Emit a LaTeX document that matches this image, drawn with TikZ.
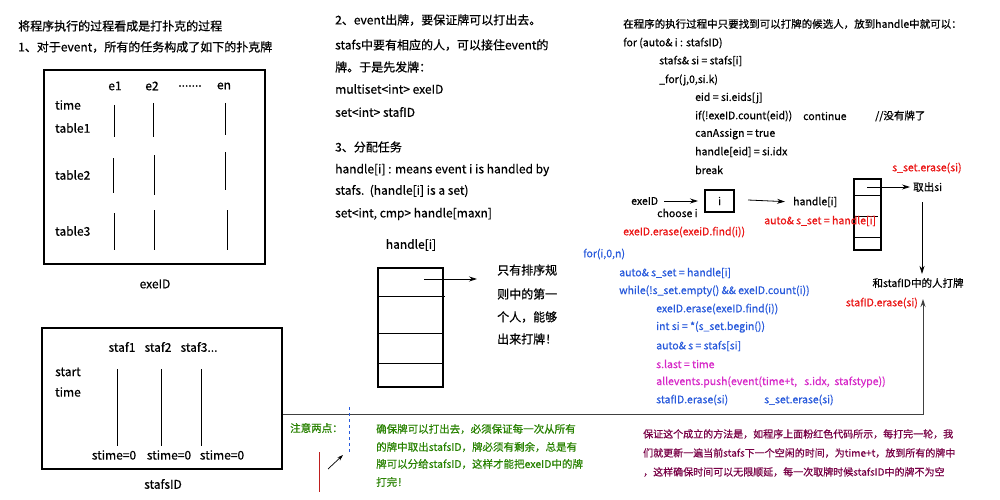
\documentclass[tikz,border=0pt]{standalone}
\usepackage{fontspec}
\setmainfont{Noto Sans CJK SC}[FakeBold=0.6]
\usetikzlibrary{arrows.meta}
\definecolor{cblue}{RGB}{40,90,220}
\definecolor{cred}{RGB}{235,20,20}
\definecolor{cmag}{RGB}{215,40,200}
\definecolor{cgreen}{RGB}{40,130,0}
\definecolor{cpurp}{RGB}{120,0,70}
\definecolor{cdred}{RGB}{190,30,30}
\tikzset{
  big/.style={anchor=west, inner sep=0pt, font=\fontsize{12}{14}\selectfont},
  bigc/.style={inner sep=0pt, font=\fontsize{12}{14}\selectfont},
  sm/.style={anchor=west, inner sep=0pt, font=\fontsize{10.5}{12}\selectfont},
  smc/.style={inner sep=0pt, font=\fontsize{10.5}{12}\selectfont},
  thickbox/.style={draw, line width=2pt, inner sep=0pt, anchor=north west},
  arr/.style={-{Stealth[length=8pt,width=5pt]}, line width=0.8pt},
  col/.style={line width=0.8pt}
}
\begin{document}
\begin{tikzpicture}[x=1pt,y=-1pt]
\fill[white] (0,0) rectangle (1000,500);
\path[use as bounding box] (0,0) rectangle (1000,500);

% ---------- left column ----------
\node[big] (t1) at (18,26) {将程序执行的过程看成是打扑克的过程};
\node[big] (t2) at (18,47) {1、对于event，所有的任务构成了如下的扑克牌};

\node[thickbox, minimum width=221pt, minimum height=194pt] (exebox) at (43,69) {};
\node[bigc] (e1) at (115,86) {e1};
\node[bigc] (e2) at (152,86) {e2};
\node[bigc] (edots) at (190,86) {.......};
\node[bigc] (en) at (224,86) {en};
\node[big] (ltime) at (55,105) {time};
\node[big] (ltab1) at (55,128) {table1};
\node[big] (ltab2) at (55,175) {table2};
\node[big] (ltab3) at (55,231) {table3};
\draw[col] (114,105) -- (114,137);
\draw[col] (153,103) -- (153,137);
\draw[col] (225,103) -- (225,135);
\draw[col] (113,158) -- (113,193);
\draw[col] (154,155) -- (154,195);
\draw[col] (225,152) -- (225,190);
\draw[col] (114,213) -- (114,250);
\draw[col] (154,210) -- (154,250);
\draw[col] (227,210) -- (227,250);
\node[bigc] (exelbl) at (155,284) {exeID};

\node[thickbox, minimum width=240pt, minimum height=141pt] (stafbox) at (41,327) {};
\node[bigc] (s1) at (122,347) {staf1};
\node[bigc] (s2) at (158,347) {staf2};
\node[bigc] (s3) at (199,347) {staf3...};
\node[big] (lstart) at (55,372) {start};
\node[big] (ltime2) at (55,392) {time};
\draw[col] (117,369) -- (117,446);
\draw[col] (161,369) -- (161,446);
\draw[col] (201,369) -- (201,446);
\node[bigc] (st1) at (114,455) {stime=0};
\node[bigc] (st2) at (169,455) {stime=0};
\node[bigc] (st3) at (222,455) {stime=0};
\node[bigc] (staflbl) at (163,484) {stafsID};

% ---------- middle column ----------
\node[big] (m1) at (335,20) {2、event出牌，要保证牌可以打出去。};
\node[big] (m2) at (335,45) {stafs中要有相应的人，可以接住event的};
\node[big] (m3) at (335,67) {牌。于是先发牌：};
\node[big] (m4) at (335,89) {multiset<int> exeID};
\node[big] (m5) at (335,112) {set<int> stafID};
\node[big] (m6) at (335,147) {3、分配任务};
\node[big] (m7) at (335,170) {handle[i] : means event i is handled by};
\node[big] (m8) at (335,191) {stafs.\ \ (handle[i] is a set)};
\node[big] (m9) at (335,214) {set<int, cmp> handle[maxn]};

\node[bigc] (hlbl) at (411,245) {handle[i]};
\node[thickbox, minimum width=65pt, minimum height=119pt] (hbox) at (377,267) {};
\draw[col] (377,296) -- (445,296);
\draw[col] (377,333) -- (442,333);
\draw[col] (377,363) -- (442,363);
\coordinate (harrs) at (424,279);
\node[big] (h1) at (497,270) {只有排序规};
\node[big] (h2) at (497,294) {则中的第一};
\node[big] (h3) at (497,317) {个人，能够};
\node[big] (h4) at (497,339) {出来打牌！};
\coordinate (harre) at (477,279);
\draw[arr] (harrs) -- (harre);

% ---------- right column ----------
\node[sm] (r0) at (623,24) {在程序的执行过程中只要找到可以打牌的候选人，放到handle中就可以：};
\node[sm] (r1) at (623,43) {for (auto\& i : stafsID)};
\node[sm] (r2) at (659,61) {stafs\& si = stafs[i]};
\node[sm] (r3) at (659,80) {\_for(j,0,si.k)};
\node[sm] (r4) at (695,98) {eid = si.eids[j]};
\node[sm] (r5) at (695,116) {if(!exeID.count(eid))};
\node[sm] (r5b) at (803,116) {continue};
\node[sm] (r5c) at (875,116) {//没有牌了};
\node[sm] (r6) at (695,134) {canAssign = true};
\node[sm] (r7) at (695,152) {handle[eid] = si.idx};
\node[sm] (r8) at (695,170) {break};
\node[sm, text=cred] (rerase) at (892,168) {s\_set.erase(si)};

\node[sm] (pexe) at (631,201) {exeID};
\node[sm] (pchoose) at (657,213) {choose i};
\node[draw, line width=2pt, minimum width=29pt, minimum height=22pt, inner sep=0pt, font=\fontsize{10.5}{12}\selectfont] (ibox) at (719.5,201) {i};
\draw[arr, shorten >=6pt] (pexe.east) ++(6,0) coordinate (pa) -- (ibox.west);
\node[sm] (phandle) at (793,202) {handle[i]};
\draw[arr, shorten >=8pt] (ibox.east) ++(13,-1) coordinate (pb) -- (phandle.west);
\node[sm, text=cred] (perase) at (623,232) {exeID.erase(exeiD.find(i))};

\node[thickbox, minimum width=27pt, minimum height=71pt] (sbox) at (853,178) {};
\draw[col] (853,195) -- (880,195);
\draw[col] (853,216) -- (878,216);
\draw[col] (853,237) -- (880,237);
\node[sm, text=cred] (pauto) at (764,221) {auto\& s\_set = handle[i]};
\node[sm] (take) at (913,187) {取出si};
\coordinate (sarr) at (867,187);
\draw[arr, shorten >=3pt] (sarr) -- (take.west);
\node[smc] (play) at (918,283) {和stafID中的人打牌};
\draw[arr, shorten >=4pt] (922,202) coordinate (dtop) -- (play.north -| dtop);
\node[sm, anchor=east, text=cred] (perase2) at (918,303) {stafID.erase(si)};

\node[sm, text=cblue] (b1) at (583,254) {for(i,0,n)};
\node[sm, text=cblue] (b2) at (619,273) {auto\& s\_set = handle[i]};
\node[sm, text=cblue] (b3) at (619,291) {while(!s\_set.empty() \&\& exeID.count(i))};
\node[sm, text=cblue] (b4) at (656,309) {exeID.erase(exeID.find(i))};
\node[sm, text=cblue] (b5) at (656,327) {int si = *(s\_set.begin())};
\node[sm, text=cblue] (b6) at (656,346) {auto\& s = stafs[si]};
\node[sm, text=cmag] (b7) at (656,364) {s.last = time};
\node[sm, text=cmag] (b8) at (656,382) {allevents.push(event(time+t,\ \ \ s.idx,\ \ stafstype))};
\node[sm, text=cblue] (b9) at (656,400) {stafID.erase(si)};
\node[sm, text=cblue] (b10) at (764,400) {s\_set.erase(si)};

% long return line
\coordinate (lstart) at (stafbox.east |- 0,414);
\coordinate (lcorner) at (923,414);
\draw[-{Stealth[length=8pt,width=5pt]}, line width=1pt, black!75] (lstart) -- (lcorner) -- (923,299);

% ---------- notes ----------
\node[sm, text=cgreen] (note) at (290,428) {注意两点：};
\draw[cblue, dashed, line width=0.8pt] (349,407) -- (349,452);
\draw[cdred, line width=0.8pt] (319,452) -- (319,492);
\coordinate (na) at (328,469);
\coordinate (nb) at (343,455);
\draw[-{Stealth[length=6pt,width=4pt]}, line width=0.7pt] (na) -- (nb);
\node[sm, text=cgreen] (g1) at (376,429) {确保牌可以打出去，必须保证每一次从所有};
\node[sm, text=cgreen] (g2) at (376,447) {的牌中取出stafsID，牌必须有剩余，总是有};
\node[sm, text=cgreen] (g3) at (376,464) {牌可以分给stafsID，这样才能把exeID中的牌};
\node[sm, text=cgreen] (g4) at (376,482) {打完！};

\node[sm, text=cpurp, font=\fontsize{10}{12}\selectfont] (p1) at (643,434) {保证这个成立的方法是，如程序上面粉红色代码所示，每打完一轮，我};
\node[sm, text=cpurp, font=\fontsize{10}{12}\selectfont] (p2) at (643,453) {们就更新一遍当前stafs下一个空闲的时间，为time+t，放到所有的牌中};
\node[sm, text=cpurp, font=\fontsize{10}{12}\selectfont] (p3) at (643,472) {，这样确保时间可以无限顺延，每一次取牌时候stafsID中的牌不为空};
\end{tikzpicture}
\end{document}
